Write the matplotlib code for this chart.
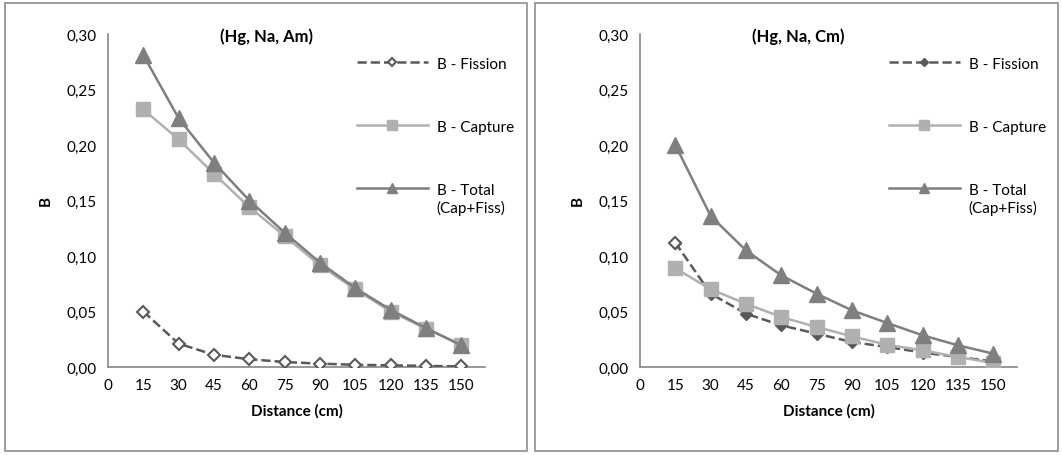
import numpy as np
import matplotlib.pyplot as plt
from matplotlib.patches import Rectangle
from matplotlib.ticker import FuncFormatter

plt.rcParams['font.family'] = ['Lato', 'DejaVu Sans']

distance = [15, 30, 45, 60, 75, 90, 105, 120, 135, 150]

# (Hg, Na, Am)
am_fission = [0.050, 0.021, 0.011, 0.007, 0.0045, 0.003, 0.002, 0.0015, 0.001, 0.0005]
am_capture = [0.232, 0.205, 0.174, 0.144, 0.118, 0.0915, 0.070, 0.050, 0.0345, 0.020]
am_total = [0.281, 0.224, 0.184, 0.150, 0.121, 0.094, 0.071, 0.0515, 0.035, 0.0195]

# (Hg, Na, Cm)
cm_fission = [0.112, 0.066, 0.048, 0.0375, 0.030, 0.0225, 0.018, 0.013, 0.009, 0.005]
cm_capture = [0.089, 0.070, 0.057, 0.045, 0.036, 0.0276, 0.020, 0.015, 0.009, 0.0036]
cm_total = [0.200, 0.136, 0.105, 0.0825, 0.066, 0.051, 0.0396, 0.0285, 0.0195, 0.012]

titles = ['(Hg, Na, Am)', '(Hg, Na, Cm)']
labels = ['B - Fission', 'B - Capture', 'B - Total']
label_extra = '(Cap+Fiss)'

c_fis = '#595959'
c_cap = '#b0b0b0'
c_tot = '#7f7f7f'
c_axis = '#868686'
fs = 11

fig = plt.figure(figsize=(10.62, 4.56), dpi=100)

# panel frames
fig.patches.append(Rectangle((5/1062, 4/456), 522/1062, 448/456, transform=fig.transFigure,
                             fill=False, edgecolor='#8c8c8c', lw=1.2))
fig.patches.append(Rectangle((535/1062, 4/456), 523/1062, 448/456, transform=fig.transFigure,
                             fill=False, edgecolor='#8c8c8c', lw=1.2))

lefts = [108/1062, 640/1062]
data = [(am_fission, am_capture, am_total), (cm_fission, cm_capture, cm_total)]
legends = []

for i in range(2):
    ax = fig.add_axes([lefts[i], 1 - 368/456, 377/1062, 333/456])
    fis, cap, tot = data[i]
    if i == 0:
        ax.plot(distance, fis, '--', color=c_fis, lw=1.8, marker='D', ms=6,
                mfc='white', mec=c_fis, mew=1.5, label=labels[0], zorder=3)
    else:
        ax.plot(distance, fis, '--', color=c_fis, lw=1.8, marker='D', ms=6,
                mfc=c_fis, mec=c_fis, label=labels[0], zorder=2)
        ax.plot(distance[:1], fis[:1], 'D', ms=6, mfc='white', mec=c_fis, mew=1.5, zorder=3)
    ax.plot(distance, cap, '-', color=c_cap, lw=1.8, marker='s', ms=10,
            label=labels[1], zorder=3)
    ax.plot(distance, tot, '-', color=c_tot, lw=1.8, marker='^', ms=11,
            label=labels[2], zorder=4)

    ax.set_xlim(0, 160)
    ax.set_ylim(0, 0.30)
    ax.set_xticks([0] + distance)
    ax.set_yticks(np.arange(0, 0.301, 0.05))
    ax.yaxis.set_major_formatter(FuncFormatter(lambda v, p: f'{v:.2f}'.replace('.', ',')))
    ax.tick_params(length=0, labelsize=fs, colors='#000000', pad=8)
    for s in ['top', 'right']:
        ax.spines[s].set_visible(False)
    for s in ['left', 'bottom']:
        ax.spines[s].set_color(c_axis)
        ax.spines[s].set_linewidth(1.2)
    ax.set_xlabel('Distance (cm)', fontsize=fs, fontweight='bold', labelpad=8)
    ax.set_ylabel('B', fontsize=fs, fontweight='bold', labelpad=10)
    ax.set_title(titles[i], fontsize=12, fontweight='bold', x=0.42, y=0.955)
    leg = ax.legend(loc='upper left', bbox_to_anchor=(0.645, 0.95), frameon=False,
                    fontsize=fs, handlelength=4.6, labelspacing=3.2, handletextpad=0.6,
                    borderaxespad=0, markerscale=0.7)
    legends.append(leg)

# second line of the last legend label, placed under "B - Total"
fig.canvas.draw()
for leg in legends:
    t = leg.get_texts()[-1]
    bb = t.get_window_extent().transformed(fig.transFigure.inverted())
    fig.text(bb.x0, bb.y0 - 0.008, label_extra, fontsize=fs, ha='left', va='top')

fig.savefig('out.png', dpi=100)
